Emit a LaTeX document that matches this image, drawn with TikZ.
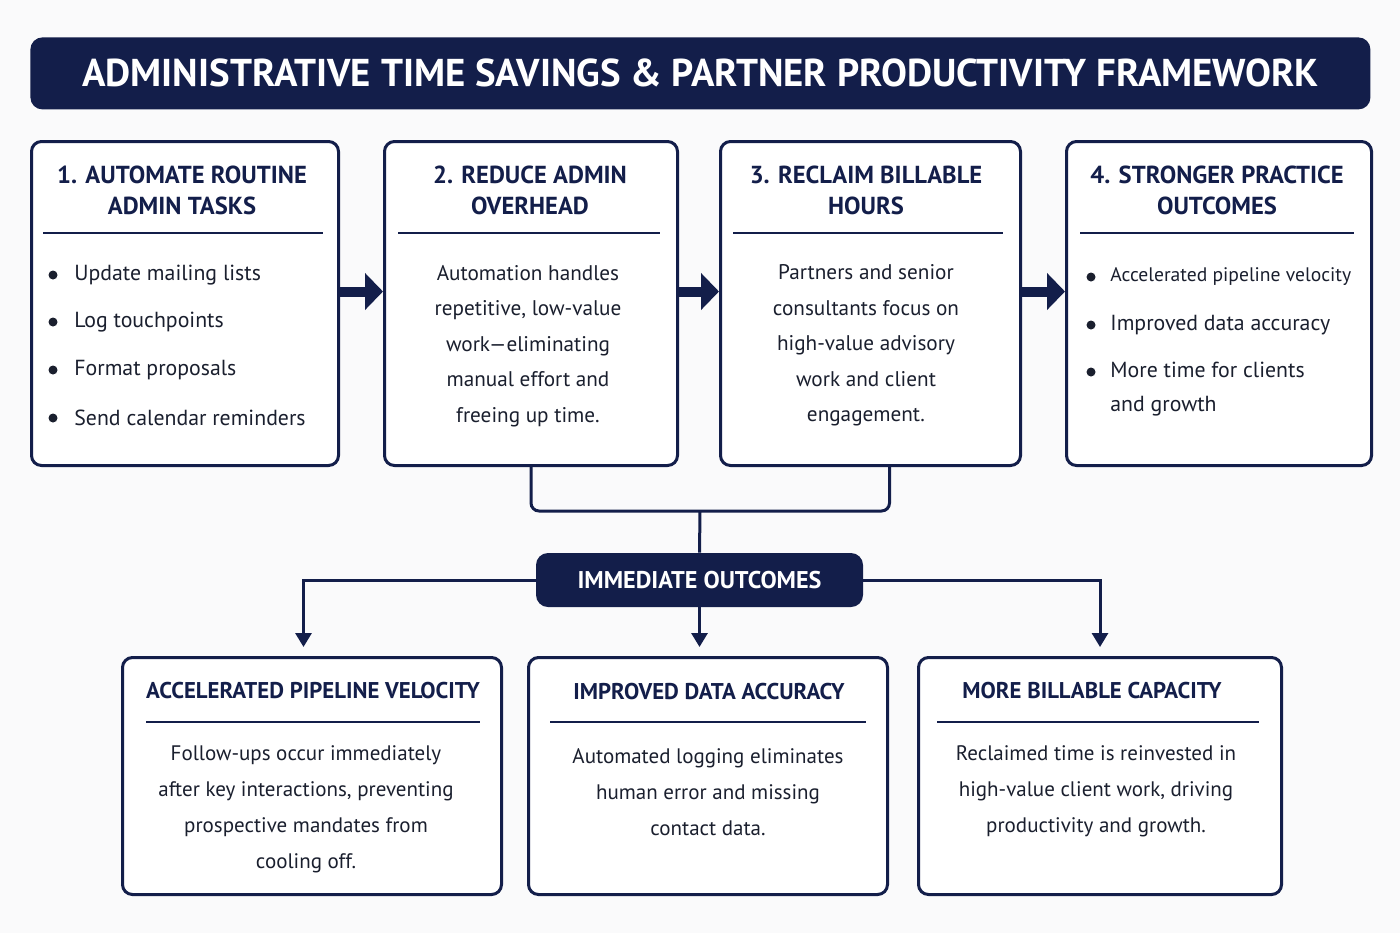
\documentclass[tikz,border=0pt]{standalone}
\usepackage{fontspec}
\setmainfont{PT Sans}
\usetikzlibrary{positioning,arrows.meta}
\definecolor{navy}{HTML}{131E4A}
\definecolor{ink}{HTML}{1A1F2E}
\definecolor{paper}{HTML}{FAFAFB}
\tikzset{card/.style = {draw=navy, line width=1.5pt, rounded corners=5pt, fill=white, anchor=north west, inner sep=0pt},
         banner/.style = {fill=navy, rounded corners=6pt, text=white, inner sep=0pt},
         head/.style = {text=navy, font=\bfseries\fontsize{12.3}{15.5}\selectfont, align=center, inner sep=0pt},
         body/.style = {text=ink, font=\fontsize{10.6}{17.75}\selectfont, align=center, inner sep=0pt},
         item/.style = {text=ink, font=\fontsize{10.9}{17}\selectfont, align=left, anchor=west, inner sep=0pt},
         dot/.style = {circle, fill=ink, inner sep=0pt, minimum size=4.5pt},
         rule/.style = {draw=navy, line width=1pt},
         flow/.style = {draw=navy, line width=5pt, -{Triangle[length=9pt,width=18pt]}},
         link/.style = {draw=navy, line width=1.5pt},
         drop/.style = {link, -{Triangle[length=7pt,width=8pt]}, shorten >=4.5pt}}

\begin{document}
\begin{tikzpicture}[x=0.5pt, y=-0.5pt]
            \fill[paper] (0,0) rectangle (1400,933);
            \useasboundingbox (0,0) rectangle (1400,933);

            % title
            \node[banner, anchor=north west, minimum width=670pt, minimum height=36pt,
                  font=\bfseries\fontsize{19.4}{22}\selectfont] (title) at (30,37)
                  {ADMINISTRATIVE TIME SAVINGS \& PARTNER PRODUCTIVITY FRAMEWORK};

            % four steps
            \node[card, minimum width=153.5pt, minimum height=162pt] (b1) at (30,140)  {};
            \node[card, minimum width=146.5pt, minimum height=162pt] (b2) at (383,140) {};
            \node[card, minimum width=150pt,   minimum height=162pt] (b3) at (719,140) {};
            \node[card, minimum width=152.5pt, minimum height=162pt] (b4) at (1065,140) {};

            \node[head] (b1h) at (182,190)  {1. AUTOMATE ROUTINE\\ADMIN TASKS};
            \node[head] (b2h) at (530,190)  {2. REDUCE ADMIN\\OVERHEAD};
            \node[head] (b3h) at (866,190)  {3. RECLAIM BILLABLE\\HOURS};
            \node[head] (b4h) at (1217,190) {4. STRONGER PRACTICE\\OUTCOMES};

            \draw[rule] (43,233) -- (323,233);
            \draw[rule] (398,233) -- (660,233);
            \draw[rule] (733,233) -- (1003,233);
            \draw[rule] (1080,233) -- (1354,233);

            \foreach \y/\t [count=\i] in {275/Update mailing lists, 322/Log touchpoints,
                                          370/Format proposals, 418/Send calendar reminders} {
                \node[dot] (d\i) at (53,\y) {};
                \node[item] (t\i) at (74,\y) {\t};
            }

            \node[body] (b2t) at (528,346) {Automation handles\\repetitive, low-value\\work—eliminating\\manual effort and\\freeing up time.};
            \node[body] (b3t) at (866,345.5) {Partners and senior\\consultants focus on\\high-value advisory\\work and client\\engagement.};

            \node[dot] (e1) at (1091,277) {};
            \node[item, font=\fontsize{9.8}{17}\selectfont] (u1) at (1110,277) {Accelerated pipeline velocity};
            \node[dot] (e2) at (1091,325) {};
            \node[item] (u2) at (1110,325) {Improved data accuracy};
            \node[dot] (e3) at (1091,372) {};
            \node[item] (u3) at (1110,389) {More time for clients\\and growth};

            \draw[flow] ([yshift=6pt]b1.east) -- ([yshift=6pt]b2.west);
            \draw[flow] ([yshift=6pt]b2.east) -- ([yshift=6pt]b3.west);
            \draw[flow] ([yshift=6pt]b3.east) -- ([yshift=6pt]b4.west);

            % outcomes hub
            \coordinate (j) at (700,511);
            \node[banner, minimum width=163.5pt, minimum height=27pt,
                  font=\bfseries\fontsize{12.1}{14}\selectfont] (io) at (699.5,580) {IMMEDIATE OUTCOMES};
            \draw[link, rounded corners=4pt] (b2.south) |- (j) -| ([xshift=9.5pt]b3.south);
            \draw[link] (j) -- (io.north);

            % three outcomes
            \node[card, minimum width=189.5pt, minimum height=118.5pt] (o1) at (121,656) {};
            \node[card, minimum width=179.5pt, minimum height=118.5pt] (o2) at (527,656) {};
            \node[card, minimum width=181.5pt, minimum height=118.5pt] (o3) at (917,656) {};

            \node[head, font=\bfseries\fontsize{11.4}{14}\selectfont] (o1h) at (313,690)  {ACCELERATED PIPELINE VELOCITY};
            \node[head, font=\bfseries\fontsize{11.4}{14}\selectfont] (o2h) at (709,691)  {IMPROVED DATA ACCURACY};
            \node[head, font=\bfseries\fontsize{11.4}{14}\selectfont] (o3h) at (1092,690) {MORE BILLABLE CAPACITY};

            \draw[rule] (146,722) -- (480,722);
            \draw[rule] (550,722) -- (866,722);
            \draw[rule] (937,722) -- (1259,722);

            \node[body, font=\fontsize{10.5}{18}\selectfont] (o1t) at (306,809) {Follow-ups occur immediately\\after key interactions, preventing\\prospective mandates from\\cooling off.};
            \node[body, font=\fontsize{10.5}{18}\selectfont] (o2t) at (708,792) {Automated logging eliminates\\human error and missing\\contact data.};
            \node[body, font=\fontsize{10.5}{18}\selectfont] (o3t) at (1096,791.5) {Reclaimed time is reinvested in\\high-value client work, driving\\productivity and growth.};

            \draw[drop] (io.west) -| ([xshift=-4.25pt]o1.north);
            \draw[drop] (io.south) -- (io.south |- o2.north);
            \draw[drop] (io.east) -| (o3.north);
        \end{tikzpicture}
\end{document}
